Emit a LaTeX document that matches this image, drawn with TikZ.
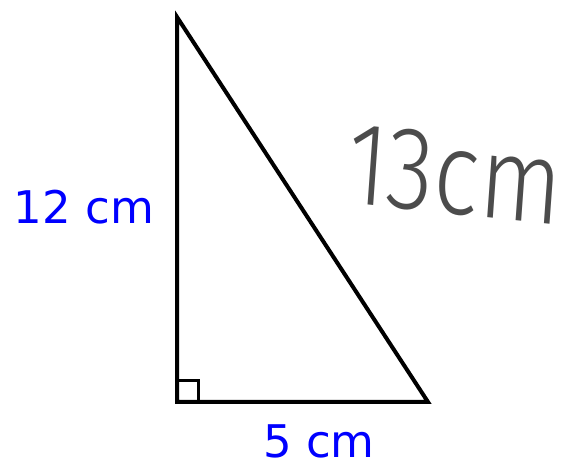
\documentclass[tikz,border=0pt]{standalone}
\usepackage{fontspec}
\setmainfont{DejaVu Sans}
\newfontfamily\handfont{Fira Sans Light}
\usepackage{tikz}

\definecolor{labelblue}{RGB}{0,0,255}

\begin{document}
\begin{tikzpicture}[x=1pt,y=-1pt,
        side/.style={line width=4pt,line join=miter},
        sidelabel/.style={text=labelblue,font=\fontsize{45}{45}\selectfont,inner sep=0pt},
        handlabel/.style={text=black!70,font=\handfont\fontsize{118}{118}\selectfont,inner sep=0pt}]
    \useasboundingbox (0,0) rectangle (579,470);

    % Corners
    \coordinate (top) at (177,17);
    \coordinate (right) at (428,402);
    \coordinate (corner) at (177,402);

    % Triangle
    \draw[side] (top) -- (corner) -- (right) -- cycle;

    % Right angle mark
    \draw[line width=3pt] (177,381) -- (198,381) -- (198,402);

    % Side labels
    \node[sidelabel] (left) at (84,207) {12 cm};
    \node[sidelabel] (bottom) at (319,441) {5 cm};
    \node[handlabel,xscale=0.82,rotate=-5] (hyp) at (455,175) {13cm};
\end{tikzpicture}
\end{document}
